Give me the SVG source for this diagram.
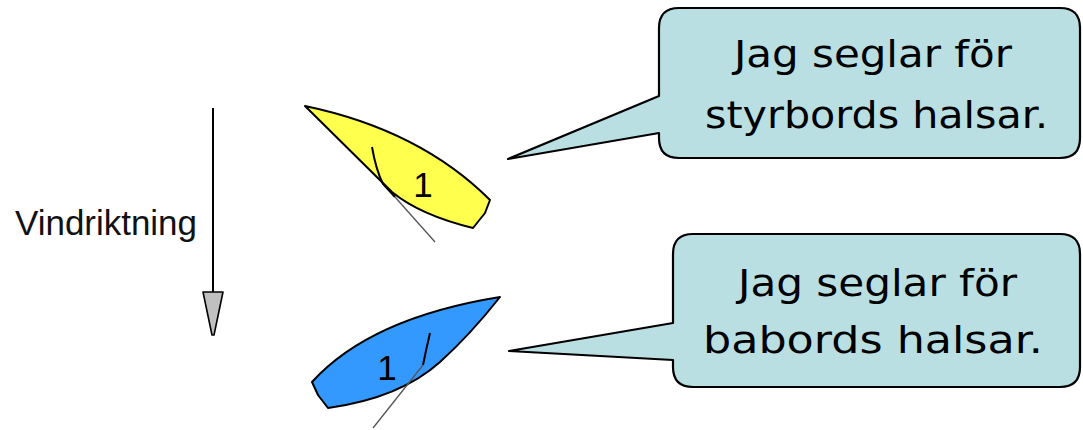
<svg xmlns="http://www.w3.org/2000/svg" width="1083" height="430" viewBox="0 0 1083 430">
<style>
.callout{fill:#b9dfe3;stroke:#000;stroke-width:2.2;stroke-linejoin:round}
.ct{font-family:"DejaVu Sans",Tahoma,sans-serif;font-size:38px;fill:#000}
.boat{stroke:#000;stroke-width:2;stroke-linejoin:round}
.num{font-family:"Liberation Sans",Arial,sans-serif;font-size:35px;fill:#000;text-anchor:middle}
.sail{fill:none;stroke:#000;stroke-width:2}
.sheet{fill:none;stroke:#555;stroke-width:1.3}
</style>
<rect width="1083" height="430" fill="#fff"/>
<g id="wind">
<line x1="213" y1="108" x2="213" y2="292" stroke="#000" stroke-width="2"/>
<path d="M203,292 L223,292 L214,335 L212,335 Z" fill="#c0c0c0" stroke="#000" stroke-width="1.6" stroke-linejoin="round"/>
<text x="15" y="235" font-family="'Liberation Sans',Arial,sans-serif" font-size="35" textLength="182" lengthAdjust="spacingAndGlyphs" fill="#111">Vindriktning</text>
</g>
<g id="boat1">
<path class="boat" fill="#ffff4d" d="M305,106 Q420,130 490,200 L485,213 L473,228 Q420,215 392,192 L305,106 Z"/>
<path class="sail" d="M372,147 Q376,170 383,184 L395,197"/>
<line class="sheet" x1="395" y1="197" x2="435" y2="242"/>
<text class="num" x="423" y="197">1</text>
</g>
<g id="boat2">
<path class="boat" fill="#3399ff" d="M500,297 Q370,318 312,382 L318,395 L328,408 Q400,398 440,362 Q470,335 500,297 Z"/>
<path class="sail" d="M430,333 Q426,350 423,365"/>
<line class="sheet" x1="423" y1="365" x2="373" y2="428"/>
<text class="num" x="387" y="380">1</text>
</g>
<g id="callout1">
<path class="callout" d="M679,8 L1060,8 Q1080,8 1080,28 L1080,138 Q1080,158 1060,158 L679,158 Q659,158 659,138 L659,133 L508,159 L659,96 L659,28 Q659,8 679,8 Z"/>
<text class="ct" x="734" y="67" textLength="278" lengthAdjust="spacingAndGlyphs">Jag seglar för</text>
<text class="ct" x="705" y="128" textLength="343" lengthAdjust="spacingAndGlyphs">styrbords halsar.</text>
</g>
<g id="callout2">
<path class="callout" d="M693,234 L1060,234 Q1080,234 1080,254 L1080,367 Q1080,387 1060,387 L693,387 Q673,387 673,367 L673,360 L509,351 L673,323 L673,254 Q673,234 693,234 Z"/>
<text class="ct" x="738" y="296" textLength="279" lengthAdjust="spacingAndGlyphs">Jag seglar för</text>
<text class="ct" x="703" y="353" textLength="340" lengthAdjust="spacingAndGlyphs">babords halsar.</text>
</g>
</svg>
